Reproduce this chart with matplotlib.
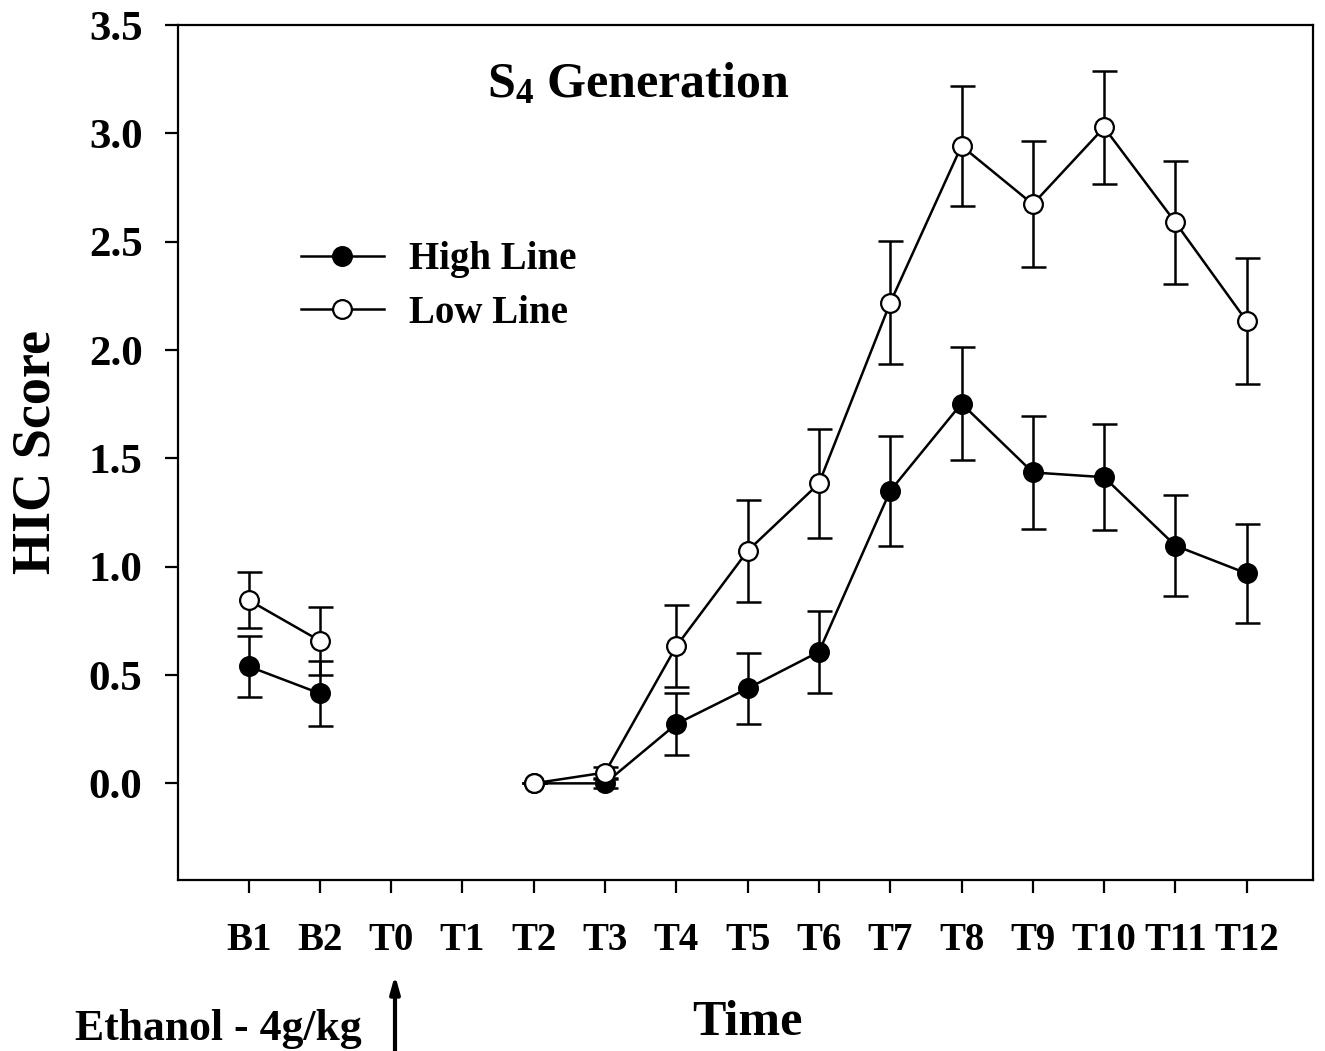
import numpy as np
import matplotlib
matplotlib.use("Agg")
import matplotlib.pyplot as plt

plt.rcParams['font.family'] = ['Liberation Serif', 'DejaVu Serif']
plt.rcParams['font.weight'] = 'bold'
plt.rcParams['mathtext.default'] = 'regular'

# time points and HIC scores (mean +/- SEM)
times = ['B1', 'B2', 'T0', 'T1', 'T2', 'T3', 'T4', 'T5', 'T6', 'T7', 'T8', 'T9', 'T10', 'T11', 'T12']
nan = np.nan
high_line = [0.54, 0.415, nan, nan, 0.0, 0.0, 0.274, 0.438, 0.607, 1.35, 1.753, 1.435, 1.413, 1.097, 0.969]
high_err = [0.14, 0.15, nan, nan, 0.0, 0.02, 0.145, 0.163, 0.19, 0.255, 0.26, 0.26, 0.245, 0.233, 0.23]
low_line = [0.846, 0.658, nan, nan, 0.0, 0.05, 0.633, 1.073, 1.384, 2.218, 2.942, 2.673, 3.027, 2.589, 2.133]
low_err = [0.128, 0.157, nan, nan, 0.0, 0.025, 0.19, 0.235, 0.25, 0.283, 0.276, 0.29, 0.262, 0.285, 0.29]

x = np.arange(len(times))

fig = plt.figure(figsize=(13.25, 10.51), dpi=100)
ax = fig.add_axes([178/1325, 171/1051, 1135/1325, 855/1051])

lw = 1.8
for yv, ye, z in [(high_line, high_err, 2), (low_line, low_err, 4)]:
    ax.errorbar(x, yv, yerr=ye, fmt='none', ecolor='black', elinewidth=lw,
                capsize=9, capthick=lw, zorder=z)

ax.plot(x, high_line, '-o', color='black', lw=lw, ms=13.5, mfc='black', mec='black',
        mew=1.6, label='High Line', zorder=3)
ax.plot(x, low_line, '-o', color='black', lw=lw, ms=13.5, mfc='white', mec='black',
        mew=1.6, label='Low Line', zorder=5)

ax.set_xlim(-0.99, 14.93)
ax.set_ylim(-0.446, 3.5)
ax.set_xticks(x)
ax.set_xticklabels(times)
ax.set_yticks(np.arange(0, 3.51, 0.5))
ax.set_yticklabels(['%.1f' % v for v in np.arange(0, 3.51, 0.5)])

for s in ax.spines.values():
    s.set_linewidth(1.6)
ax.tick_params(axis='x', direction='out', length=9.5, width=1.6, pad=21, labelsize=28)
ax.tick_params(axis='y', direction='out', length=9.5, width=1.6, pad=16, labelsize=31)

ax.set_ylabel('HIC Score', fontsize=39, fontweight='bold')
ax.yaxis.set_label_coords(-0.103, 0.5)
ax.set_xlabel('Time', fontsize=36, fontweight='bold')
ax.xaxis.set_label_coords(0.502, -0.14)

ax.text(0.405, 0.93, 'S$_4$ Generation', transform=ax.transAxes, fontsize=36,
        fontweight='bold', ha='center', va='center')

leg = ax.legend(loc='upper left', bbox_to_anchor=(0.108, 0.747), frameon=False,
                fontsize=28, handlelength=2.15, handletextpad=0.65, labelspacing=0.42,
                borderpad=0, borderaxespad=0)

fig.text(75/1325, 11/1051, 'Ethanol - 4g/kg', fontsize=31.5, fontweight='bold',
         ha='left', va='baseline')
ax.annotate('', xy=(395/1325, 76/1051), xycoords='figure fraction',
            xytext=(395/1325, 0.0), textcoords='figure fraction',
            arrowprops=dict(arrowstyle='-|>,head_length=1.0,head_width=0.28', lw=3,
                            color='black', shrinkA=0, shrinkB=0))

fig.savefig('out.png', dpi=100)
